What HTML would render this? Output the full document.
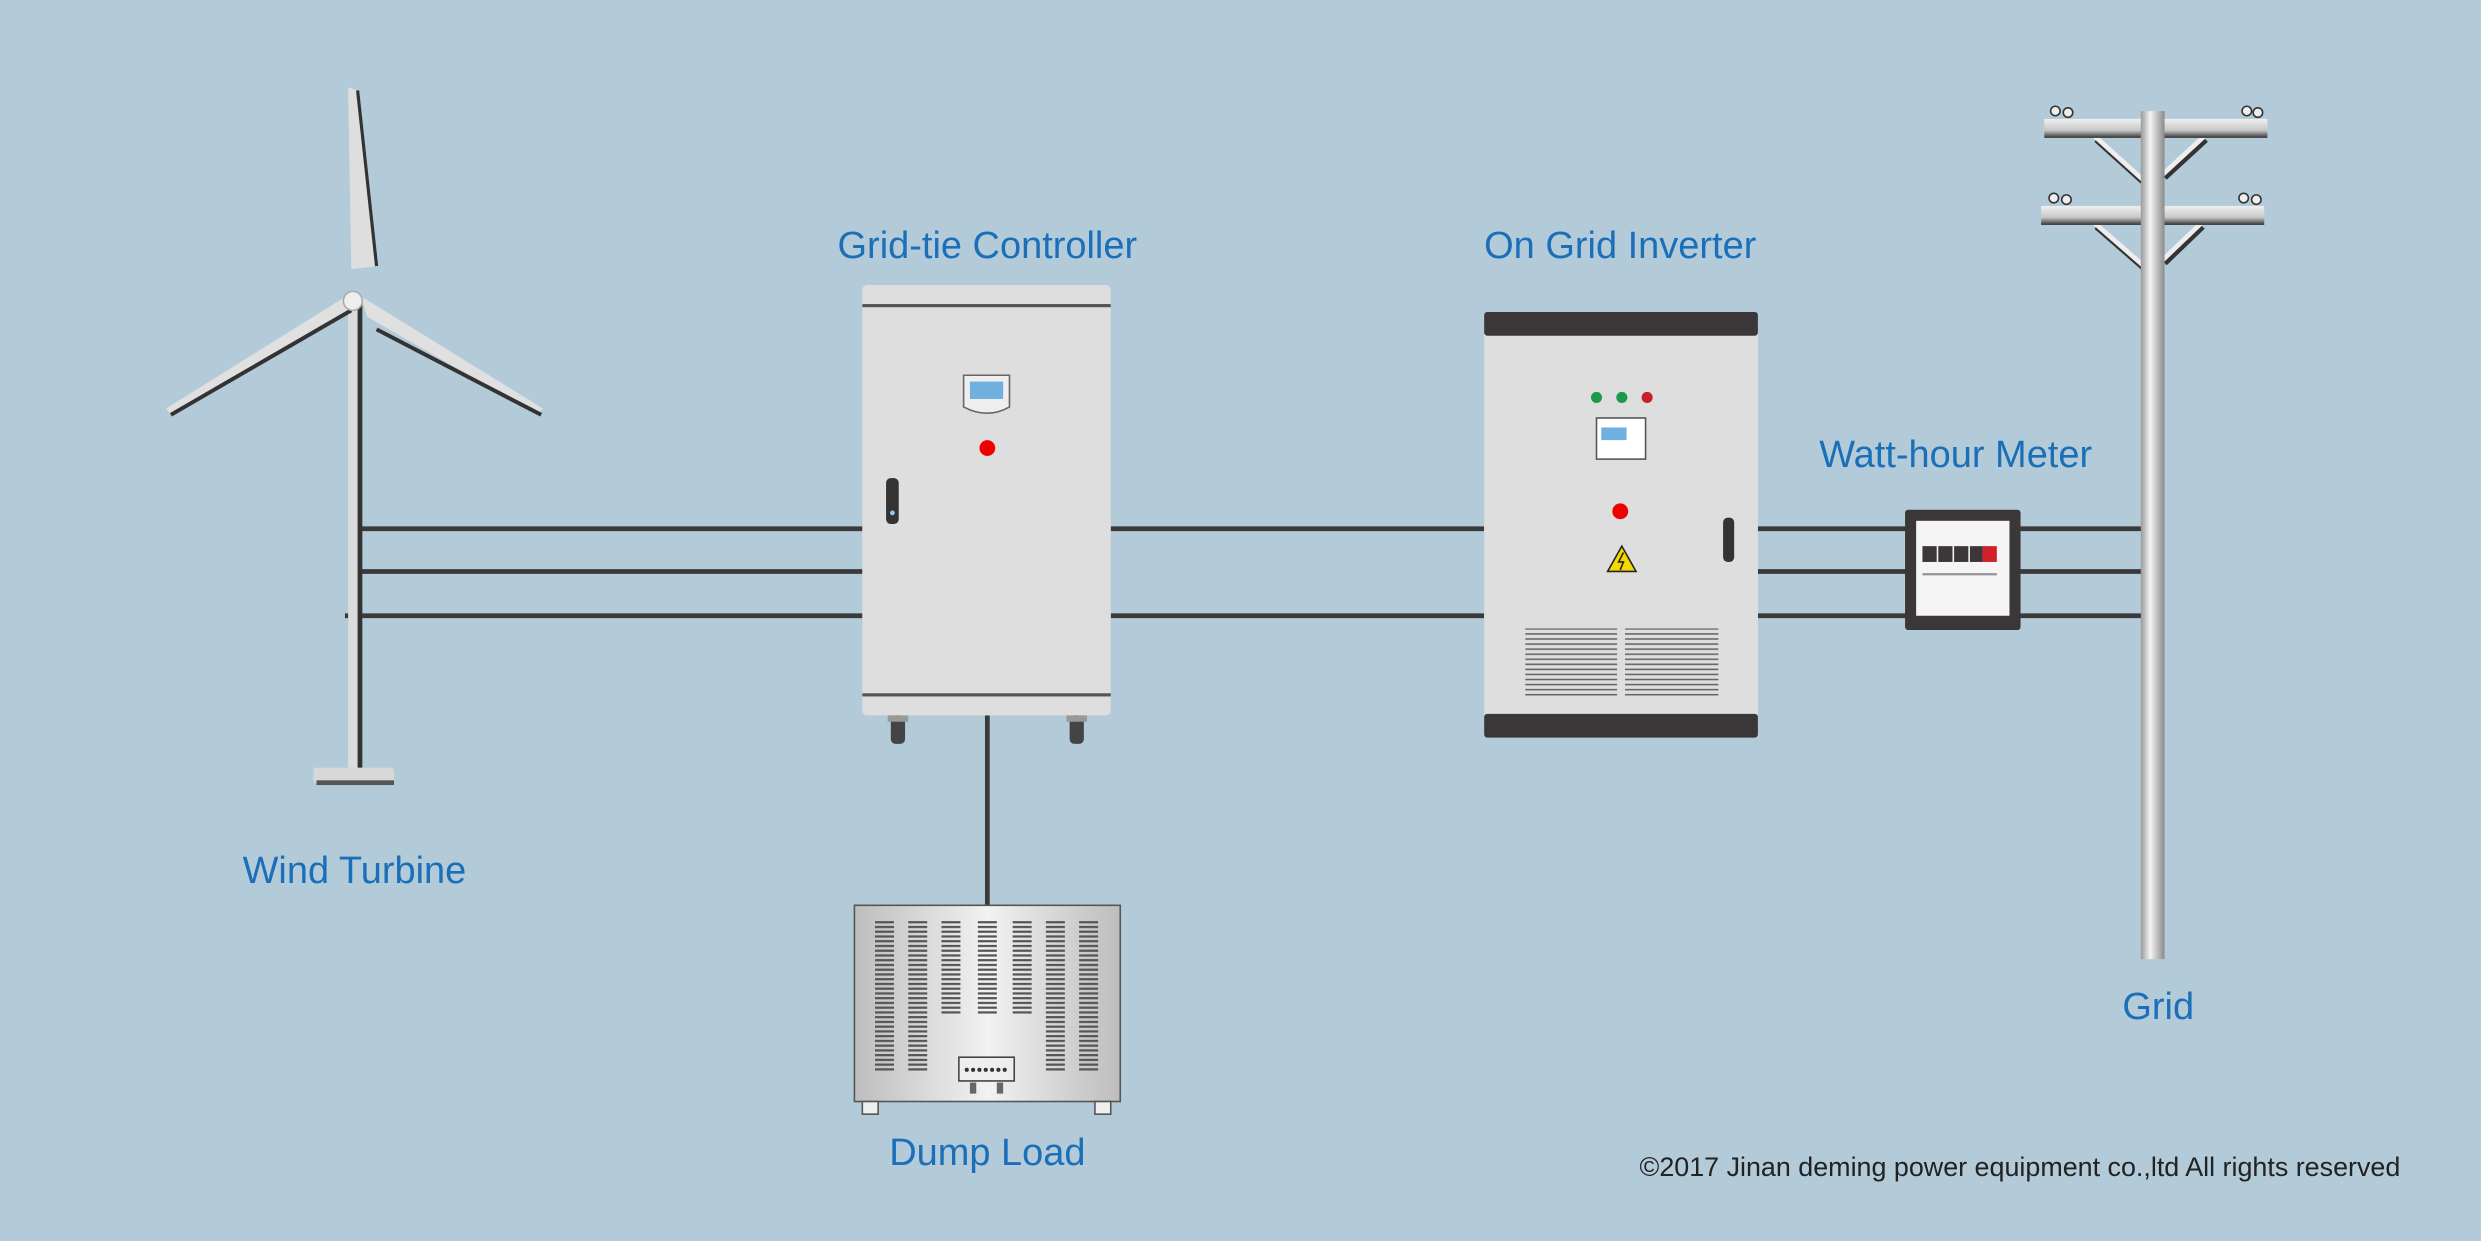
<!DOCTYPE html>
<html><head><meta charset="utf-8"><style>
html,body{margin:0;padding:0;background:#b3cbd9;}
svg{display:block}
text{font-family:"Liberation Sans",sans-serif;}
</style></head><body>
<svg width="2481" height="1241" viewBox="0 0 1568 784" xmlns="http://www.w3.org/2000/svg">
<defs>
<linearGradient id="pole" x1="0" x2="1"><stop offset="0" stop-color="#9a9a9a"/><stop offset="0.4" stop-color="#f4f4f4"/><stop offset="1" stop-color="#8a8a8a"/></linearGradient>
<linearGradient id="arm" x1="0" y1="0" x2="0" y2="1"><stop offset="0" stop-color="#f0f0f0"/><stop offset="0.6" stop-color="#c8c8c8"/><stop offset="1" stop-color="#333"/></linearGradient>
<linearGradient id="dl" x1="0" x2="1"><stop offset="0" stop-color="#bdbdbd"/><stop offset="0.5" stop-color="#f2f2f2"/><stop offset="1" stop-color="#bdbdbd"/></linearGradient>
<pattern id="vent" width="4" height="3" patternUnits="userSpaceOnUse"><rect width="4" height="1.4" fill="#555"/></pattern>
<pattern id="vent2" width="4" height="3.2" patternUnits="userSpaceOnUse"><rect width="4" height="1" fill="#666"/></pattern>
</defs>
<rect width="1568" height="784" fill="#b3cbd9"/>
<!-- cables -->
<g stroke="#3a3a3a" stroke-width="3">
<line x1="228" y1="334" x2="545" y2="334"/><line x1="228" y1="361" x2="545" y2="361"/><line x1="218" y1="389" x2="545" y2="389"/>
<line x1="702" y1="334" x2="938" y2="334"/><line x1="702" y1="389" x2="938" y2="389"/>
<line x1="1111" y1="334" x2="1354" y2="334"/><line x1="1111" y1="361" x2="1354" y2="361"/><line x1="1111" y1="389" x2="1354" y2="389"/>
<line x1="624" y1="452" x2="624" y2="573"/>
</g>
<!-- wind turbine -->
<rect x="220" y="190" width="8" height="296" fill="#dcdcdc"/><rect x="226" y="190" width="3" height="296" fill="#333"/>
<rect x="198" y="485" width="51" height="10" rx="2" fill="#d8d8d8"/><rect x="200" y="493" width="49" height="3" fill="#555"/>
<polygon points="220,55 226,57 238,168 222,170" fill="#dedede"/><polyline points="226,57 238,168" stroke="#333" stroke-width="2" fill="none"/>
<polygon points="219,187 105,258 108,262 222,197" fill="#e0e0e0"/><line x1="108" y1="262" x2="222" y2="196" stroke="#333" stroke-width="2.5"/>
<polygon points="228,187 343,258 340,262 232,200" fill="#e0e0e0"/><line x1="238" y1="208" x2="342" y2="262" stroke="#333" stroke-width="2.5"/>
<circle cx="223" cy="190" r="6" fill="#eee" stroke="#aaa"/>
<!-- controller -->
<rect x="545" y="180" width="157" height="272" rx="3" fill="#dedede"/>
<rect x="545" y="192" width="157" height="2" fill="#555"/><rect x="545" y="438" width="157" height="2" fill="#555"/>
<path d="M609 237h29v20q-14 8-29 0z" fill="#eee" stroke="#666"/><rect x="613" y="241" width="21" height="11" fill="#6fb0de"/>
<circle cx="624" cy="283" r="5" fill="#e00"/>
<rect x="560" y="302" width="8" height="29" rx="3" fill="#333"/><circle cx="564" cy="324" r="1.5" fill="#8cf"/>
<rect x="563" y="452" width="9" height="18" rx="3" fill="#444"/><rect x="676" y="452" width="9" height="18" rx="3" fill="#444"/>
<rect x="561" y="452" width="13" height="4" fill="#999"/><rect x="674" y="452" width="13" height="4" fill="#999"/>
<!-- dump load -->
<rect x="540" y="572" width="168" height="124" fill="url(#dl)" stroke="#555"/>
<g fill="url(#vent)"><rect x="553" y="581" width="12" height="97"/><rect x="574" y="581" width="12" height="97"/><rect x="595" y="581" width="12" height="60"/><rect x="618" y="581" width="12" height="60"/><rect x="640" y="581" width="12" height="60"/><rect x="661" y="581" width="12" height="97"/><rect x="682" y="581" width="12" height="97"/></g>
<rect x="606" y="668" width="35" height="15" fill="#eee" stroke="#444"/><g fill="#333"><circle cx="611" cy="676" r="1.3"/><circle cx="615" cy="676" r="1.3"/><circle cx="619" cy="676" r="1.3"/><circle cx="623" cy="676" r="1.3"/><circle cx="627" cy="676" r="1.3"/><circle cx="631" cy="676" r="1.3"/><circle cx="635" cy="676" r="1.3"/></g>
<rect x="613" y="684" width="4" height="7" fill="#666"/><rect x="630" y="684" width="4" height="7" fill="#666"/>
<rect x="545" y="696" width="10" height="8" fill="#eee" stroke="#555"/><rect x="692" y="696" width="10" height="8" fill="#eee" stroke="#555"/>
<!-- inverter -->
<rect x="938" y="197" width="173" height="269" rx="3" fill="#dedede"/>
<rect x="938" y="197" width="173" height="15" rx="2" fill="#3b3738"/><rect x="938" y="451" width="173" height="15" rx="2" fill="#3b3738"/>
<circle cx="1009" cy="251" r="3.5" fill="#1a9a4a"/><circle cx="1025" cy="251" r="3.5" fill="#1a9a4a"/><circle cx="1041" cy="251" r="3.5" fill="#c8202a"/>
<rect x="1009" y="264" width="31" height="26" fill="#fff" stroke="#555"/><rect x="1012" y="270" width="16" height="8" fill="#6fb0de"/>
<circle cx="1024" cy="323" r="5" fill="#e00"/>
<polygon points="1025,345 1034,361 1016,361" fill="#f5d800" stroke="#222"/><path d="M1026 349l-3 6h3l-2 5" stroke="#222" fill="none"/>
<rect x="1089" y="327" width="7" height="28" rx="3" fill="#333"/>
<rect x="964" y="397" width="58" height="44" fill="url(#vent2)"/><rect x="1027" y="397" width="59" height="44" fill="url(#vent2)"/>
<!-- meter -->
<rect x="1204" y="322" width="73" height="76" rx="2" fill="#3b3738"/>
<rect x="1211" y="329" width="59" height="60" fill="#f5f5f5"/>
<g fill="#3b3738"><rect x="1215" y="345" width="9" height="10"/><rect x="1225" y="345" width="9" height="10"/><rect x="1235" y="345" width="9" height="10"/><rect x="1245" y="345" width="8" height="10"/></g>
<rect x="1253" y="345" width="9" height="10" fill="#d0202a"/><rect x="1215" y="362" width="47" height="1.5" fill="#999"/>
<!-- pole -->
<g stroke="#333" stroke-width="4" fill="none"><path d="M1325 88 L1356 116"/><path d="M1394 88 L1368 112"/><path d="M1325 143 L1356 170"/><path d="M1392 143 L1368 166"/></g>
<g stroke="#eee" stroke-width="3" fill="none"><path d="M1324 86 L1355 114"/><path d="M1393 86 L1367 110"/><path d="M1324 141 L1355 168"/><path d="M1391 141 L1367 164"/></g>
<rect x="1292" y="75" width="141" height="12" fill="url(#arm)"/><rect x="1290" y="130" width="141" height="12" fill="url(#arm)"/>
<g fill="#eee" stroke="#333" stroke-width="1"><circle cx="1299" cy="70" r="3"/><circle cx="1307" cy="71" r="3"/><circle cx="1420" cy="70" r="3"/><circle cx="1427" cy="71" r="3"/><circle cx="1298" cy="125" r="3"/><circle cx="1306" cy="126" r="3"/><circle cx="1418" cy="125" r="3"/><circle cx="1426" cy="126" r="3"/></g>
<rect x="1353" y="70" width="15" height="536" fill="url(#pole)"/>
<!-- labels -->
<g fill="#1a6fb8" font-size="24" text-anchor="middle">
<text x="624" y="163">Grid-tie Controller</text>
<text x="1024" y="163">On Grid Inverter</text>
<text x="1236" y="295">Watt-hour Meter</text>
<text x="224" y="558">Wind Turbine</text>
<text x="1364" y="644">Grid</text>
<text x="624" y="736">Dump Load</text>
</g>
<text x="1517" y="743" font-size="17" fill="#222" text-anchor="end">©2017 Jinan deming power equipment co.,ltd All rights reserved</text>
</svg>
</body></html>
